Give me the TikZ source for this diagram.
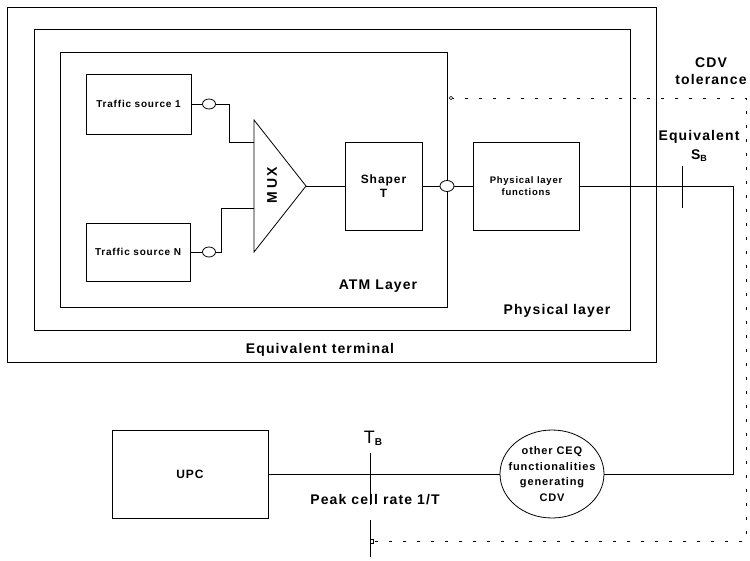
\documentclass[tikz,border=0pt]{standalone}
\usepackage{fontspec}
\setmainfont{Liberation Sans}[LetterSpace=8]
\newfontfamily\muxfont{Liberation Sans}[LetterSpace=20]
\usetikzlibrary{shapes.geometric}

\begin{document}
\begin{tikzpicture}[x=1pt,y=-1pt,line width=0.8pt]
    \tikzset{
        blockbox/.style={draw,rectangle,inner sep=0pt,align=center,
            font=\fontsize{10}{12}\selectfont\bfseries},
        port/.style={draw,ellipse,fill=white,inner sep=0pt,
            minimum width=13pt,minimum height=10pt},
        biglabel/.style={inner sep=0pt,align=center,
            font=\fontsize{14}{17}\selectfont\bfseries},
        cdvline/.style={dash pattern=on 3pt off 11pt,line width=0.7pt}
    }
    \useasboundingbox (0,0) rectangle (750,560);
    \draw (7,7) rectangle (656,362);
    \draw (34,29) rectangle (630,330);
    \draw (60,52) rectangle (447,307);
    \node[blockbox,minimum width=105pt,minimum height=60pt] (ts1) at (138.5,104) {Traffic source 1};
    \node[blockbox,minimum width=104pt,minimum height=58pt] (tsn) at (138,252) {Traffic source N};
    \node[port] (p1) at (209,104) {};
    \node[port] (p2) at (209,252) {};
    \coordinate (muxin1) at (254,142);
    \coordinate (muxin2) at (254,208);
    \coordinate (mux) at (306,186);
    \draw (254,120) -- (mux) -- (254,252) -- cycle;
    \node[rotate=90,font=\muxfont\fontsize{14}{14}\selectfont\bfseries] (muxlabel) at (272,185) {MUX};
    \node[blockbox,font=\fontsize{12}{14}\selectfont\bfseries,
        minimum width=77pt,minimum height=88pt] (shaper) at (383.5,186) {Shaper\\T};
    \node[port,minimum width=14pt,minimum height=11pt] (p3) at (447,186) {};
    \node[blockbox,font=\fontsize{9.5}{11.5}\selectfont\bfseries,
        minimum width=106pt,minimum height=88pt] (plf) at (526,186) {Physical layer\\functions};
    \node[blockbox,font=\fontsize{12}{14}\selectfont\bfseries,
        minimum width=156pt,minimum height=88pt] (upc) at (190,474) {UPC};
    \node[draw,ellipse,minimum width=104pt,minimum height=88pt] (ceq) at (552,474) {};
    \node[inner sep=0pt,align=center,font=\fontsize{11}{15.5}\selectfont\bfseries]
        (ceqtext) at (ceq) {other CEQ\\functionalities\\generating\\CDV};
    \coordinate (bend1) at (229,142);
    \coordinate (bend2) at (221,208);
    \coordinate (bend3) at (733,186);
    \draw (ts1) -- (p1);
    \draw (p1.east) -| (bend1) -- (muxin1);
    \draw (tsn) -- (p2);
    \draw (p2.east) -| (bend2) -- (muxin2);
    \draw (mux) -- (shaper);
    \draw (shaper) -- (p3) -- (plf);
    \draw (plf) -- (bend3) |- (ceq);
    \draw (upc) -- (ceq);
    \draw (682,166) -- (682,208);
    \draw (370,453) -- (370,505);
    \draw (370,520) -- (370,557);
    \coordinate (tol1) at (451,98);
    \coordinate (tol2) at (372,541);
    \draw[cdvline] (tol1) -- (746,98) -- (746,541) -- (tol2);
    \draw[line width=0.6pt,fill=white] (tol1) circle (1.8pt);
    \draw[line width=0.6pt] (tol2) ++(-1.5,-2) rectangle ++(3,4);
    \node[biglabel] (atm) at (378,286) {ATM Layer};
    \node[biglabel] (phy) at (557,311) {Physical layer};
    \node[biglabel] (eqt) at (320,350) {Equivalent terminal};
    \node[biglabel] (cdv) at (711,71.5) {CDV\\tolerance};
    \node[biglabel,font=\fontsize{14}{19}\selectfont\bfseries] (sb) at (699,146)
        {Equivalent\\S\raisebox{-0.25ex}{\fontsize{9}{9}\selectfont B}};
    \node[inner sep=0pt,font=\fontsize{18}{18}\selectfont] (tb) at (373,438)
        {T\raisebox{-0.2ex}{\fontsize{10}{10}\selectfont\bfseries B}};
    \node[biglabel] (pcr) at (375,500) {Peak cell rate 1/T};
\end{tikzpicture}
\end{document}
